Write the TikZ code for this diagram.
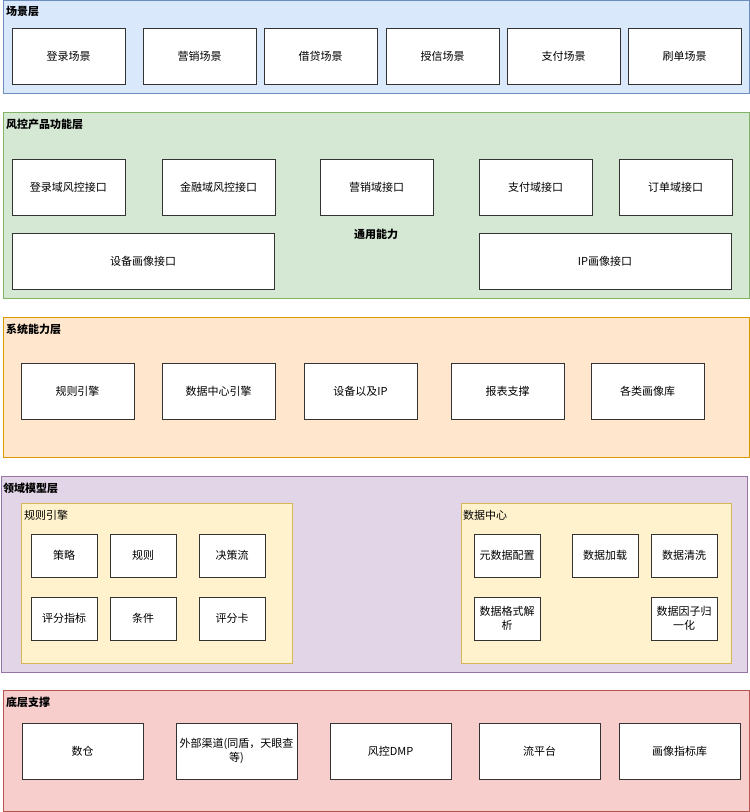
\documentclass[tikz,border=0pt]{standalone}
\usepackage{fontspec}
\setmainfont{Noto Sans CJK SC}
\usepackage{xcolor}
\definecolor{scenefill}{HTML}{DAE8FC}
\definecolor{sceneline}{HTML}{6C8EBF}
\definecolor{prodfill}{HTML}{D5E8D4}
\definecolor{prodline}{HTML}{82B366}
\definecolor{sysfill}{HTML}{FFE6CC}
\definecolor{sysline}{HTML}{D79B00}
\definecolor{domfill}{HTML}{E1D5E7}
\definecolor{domline}{HTML}{9673A6}
\definecolor{basefill}{HTML}{F8CECC}
\definecolor{baseline}{HTML}{B85450}
\definecolor{subfill}{HTML}{FFF2CC}
\definecolor{subline}{HTML}{D6B656}
\definecolor{boxline}{HTML}{333333}
\usepackage{tikz}
\newcommand{\layerw}{746pt}
\newcommand{\boxw}{113pt}
\newcommand{\boxh}{56pt}
\newcommand{\smallw}{66pt}
\newcommand{\smallh}{43pt}
\tikzset{
    common/.style={anchor=north west, rectangle, inner sep=1pt, outer sep=0pt},
    layer/.style={common, draw, line width=0.8pt, minimum width=\layerw},
    sublayer/.style={common, draw=subline, fill=subfill, line width=0.8pt, minimum width=271pt, minimum height=160pt},
    box/.style={common, draw=boxline, fill=white, line width=0.9pt, align=center,
        minimum width=\boxw, minimum height=\boxh, font=\fontsize{11}{14}\selectfont},
    smallbox/.style={box, minimum width=\smallw, minimum height=\smallh},
    basebox/.style={box, minimum width=121pt},
    title/.style={anchor=north west, inner sep=0pt, font=\bfseries\fontsize{11}{13}\selectfont},
    subtitle/.style={anchor=north west, inner sep=0pt, font=\fontsize{11}{13}\selectfont}
}

\begin{document}
\begin{tikzpicture}[x=1pt, y=-1pt]
    \useasboundingbox (0,0) rectangle (750,812);

    % scene layer
    \node[layer, fill=scenefill, draw=sceneline, minimum height=93pt] (scene) at (3,0.5) {};
    \node[title] (scene-title) at (6,6) {场景层};
    \node[box] (scene-login) at (12,28) {登录场景};
    \node[box] (scene-market) at (143,28) {营销场景};
    \node[box] (scene-loan) at (264,28) {借贷场景};
    \node[box] (scene-credit) at (386,28) {授信场景};
    \node[box] (scene-pay) at (507,28) {支付场景};
    \node[box] (scene-brush) at (628,28) {刷单场景};

    % product layer
    \node[layer, fill=prodfill, draw=prodline, minimum height=186pt] (prod) at (3,112) {};
    \node[title] (prod-title) at (6,119) {风控产品功能层};
    \node[box] (prod-login) at (12,159) {登录域风控接口};
    \node[box] (prod-finance) at (162,159) {金融域风控接口};
    \node[box] (prod-market) at (320,159) {营销域接口};
    \node[box] (prod-pay) at (479,159) {支付域接口};
    \node[box] (prod-order) at (619,159) {订单域接口};
    \node[box, minimum width=262pt] (prod-device) at (12,233) {设备画像接口};
    \node[box, minimum width=252pt] (prod-ip) at (479,233) {IP画像接口};
    \node[title, anchor=center] (prod-common) at (376,234) {通用能力};

    % system layer
    \node[layer, fill=sysfill, draw=sysline, minimum height=140pt] (sys) at (3,317) {};
    \node[title] (sys-title) at (6,324) {系统能力层};
    \node[box] (sys-rule) at (21,363) {规则引擎};
    \node[box] (sys-data) at (162,363) {数据中心引擎};
    \node[box] (sys-device) at (304,363) {设备以及IP};
    \node[box] (sys-report) at (451,363) {报表支撑};
    \node[box] (sys-profile) at (591,363) {各类画像库};

    % domain layer
    \node[layer, fill=domfill, draw=domline, minimum height=196pt] (dom) at (1,476) {};
    \node[title] (dom-title) at (3,483) {领域模型层};
    \node[sublayer] (dom-rule) at (21,503) {};
    \node[subtitle] (dom-rule-title) at (24,510) {规则引擎};
    \node[smallbox] (dom-policy) at (31,534) {策略};
    \node[smallbox] (dom-rules) at (110,534) {规则};
    \node[smallbox] (dom-flow) at (199,534) {决策流};
    \node[smallbox] (dom-index) at (31,597) {评分指标};
    \node[smallbox] (dom-cond) at (110,597) {条件};
    \node[smallbox] (dom-card) at (199,597) {评分卡};
    \node[sublayer, minimum width=270pt] (dom-data) at (461,503) {};
    \node[subtitle] (dom-data-title) at (463,510) {数据中心};
    \node[smallbox] (dom-meta) at (474,534) {元数据配置};
    \node[smallbox] (dom-load) at (572,534) {数据加载};
    \node[smallbox] (dom-clean) at (651,534) {数据清洗};
    \node[smallbox] (dom-parse) at (474,597) {数据格式解\\析};
    \node[smallbox] (dom-norm) at (651,597) {数据因子归\\一化};

    % base layer
    \node[layer, fill=basefill, draw=baseline, minimum height=121pt] (base) at (3,690) {};
    \node[title] (base-title) at (6,697) {底层支撑};
    \node[basebox] (base-dw) at (22,723) {数仓};
    \node[basebox] (base-ext) at (176,723) {外部渠道(同盾，天眼查\\等)};
    \node[basebox] (base-dmp) at (330,723) {风控DMP};
    \node[basebox] (base-stream) at (479,723) {流平台};
    \node[basebox] (base-profile) at (619,723) {画像指标库};
\end{tikzpicture}
\end{document}
